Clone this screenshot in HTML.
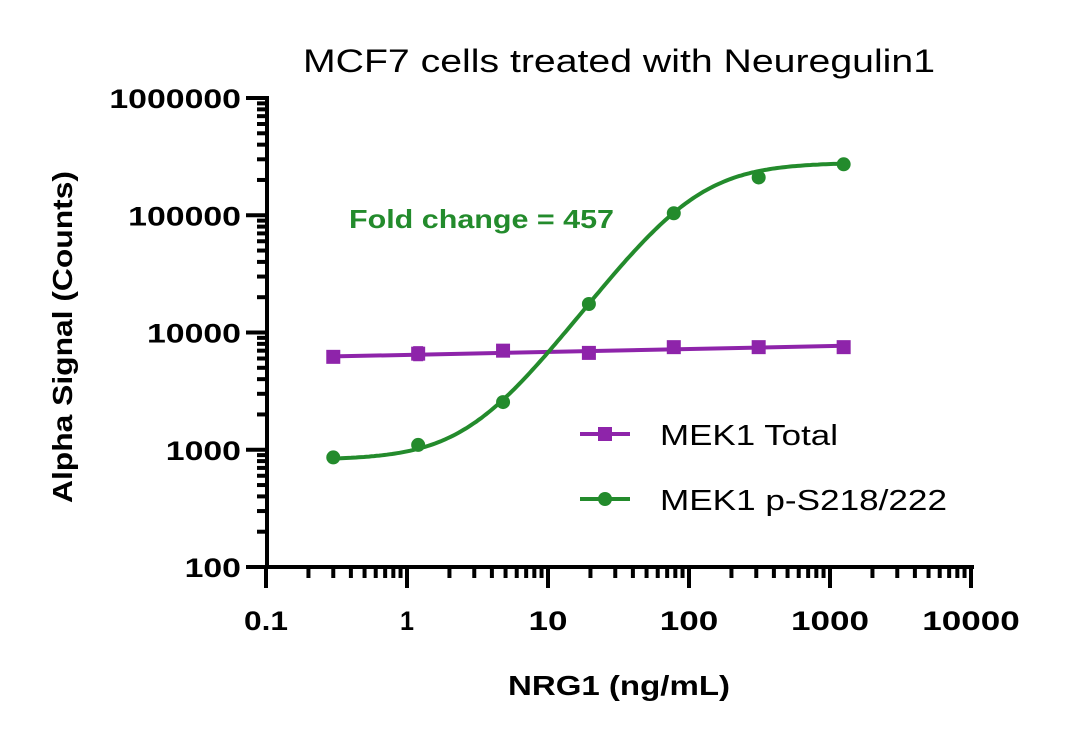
<!DOCTYPE html>
<html><head><meta charset="utf-8"><style>
body{margin:0;background:#fff;}
svg{display:block}
text{font-family:"Liberation Sans",sans-serif;}
</style></head><body>
<svg id="s" width="1080" height="734" xmlns="http://www.w3.org/2000/svg">
<rect width="1080" height="734" fill="#fff"/>
<text x="303" y="72" font-size="32" textLength="632" lengthAdjust="spacingAndGlyphs" fill="#000">MCF7 cells treated with Neuregulin1</text>
<text x="508" y="695" font-size="28" font-weight="bold" textLength="222" lengthAdjust="spacingAndGlyphs">NRG1 (ng/mL)</text>
<text transform="translate(72,503) rotate(-90)" font-size="28" font-weight="bold" textLength="332" lengthAdjust="spacingAndGlyphs">Alpha Signal (Counts)</text>
<text x="349" y="228" font-size="26" font-weight="bold" fill="#238B2C" textLength="265" lengthAdjust="spacingAndGlyphs">Fold change = 457</text>
<g id="ax" stroke="#000" stroke-width="4"></g>
<g id="lab" font-size="27" font-weight="bold"></g>
<g id="dat"></g>
<line x1="580" y1="434" x2="630" y2="434" stroke="#8E24AA" stroke-width="4"/>
<rect x="598" y="427" width="14" height="14" fill="#8E24AA"/>
<line x1="580" y1="499" x2="630" y2="499" stroke="#238B2C" stroke-width="4"/>
<circle cx="605" cy="499" r="7" fill="#238B2C"/>
<text x="660" y="445" font-size="29" textLength="178" lengthAdjust="spacingAndGlyphs">MEK1 Total</text>
<text x="660" y="510" font-size="29" textLength="287" lengthAdjust="spacingAndGlyphs">MEK1 p-S218/222</text>
</svg>
<script>
var NS="http://www.w3.org/2000/svg";
function px(x){return 266+141*(Math.log10(x)+1);}
function py(y){return 567-117.25*(Math.log10(y)-2);}
function el(p,t,a,txt){var e=document.createElementNS(NS,t);for(var k in a)e.setAttribute(k,a[k]);if(txt)e.textContent=txt;document.getElementById(p).appendChild(e);return e;}
el("ax","line",{x1:267,y1:96,x2:267,y2:569});
el("ax","line",{x1:265,y1:567,x2:974,y2:567});
for(var d=-1;d<=4;d++){for(var m=1;m<=9;m++){var X=px(m*Math.pow(10,d));if(d==4&&m>1)break;el("ax","line",{x1:X,y1:567,x2:X,y2:m==1?588:578});}}
for(var d=2;d<=6;d++){for(var m=1;m<=9;m++){if(d==6&&m>1)break;var Y=py(m*Math.pow(10,d));el("ax","line",{x1:267,y1:Y,x2:m==1?246:257,y2:Y});}}
var xl=["0.1","1","10","100","1000","10000"];
for(var i=0;i<6;i++){var L=xl[i]=="0.1"?44:(xl[i]=="1"?14:xl[i].length*19.5);el("lab","text",{x:px(Math.pow(10,i-1))-L/2,y:630,textLength:L,lengthAdjust:"spacingAndGlyphs"},xl[i]);}
var yl=["100","1000","10000","100000","1000000"];
for(var i=0;i<5;i++){var L=yl[i].length*18.8;el("lab","text",{x:241-L,y:py(Math.pow(10,i+2))+10,textLength:L,lengthAdjust:"spacingAndGlyphs"},yl[i]);}
var xs=[0.3,1.2,4.8,19.5,78,312,1250];
var g=[860,1100,2550,17500,104000,210000,272000];
var p=[6200,6600,7000,6700,7500,7500,7500];
el("dat","path",{d:"M"+px(0.3)+","+py(6250)+"L"+px(1250)+","+py(7700),stroke:"#8E24AA","stroke-width":4,fill:"none"});
el("dat","line",{x1:px(1.2),y1:py(7500),x2:px(1.2),y2:py(5800),stroke:"#8E24AA","stroke-width":2});
el("dat","line",{x1:px(1.2)-5,y1:py(7500),x2:px(1.2)+5,y2:py(7500),stroke:"#8E24AA","stroke-width":2});
el("dat","line",{x1:px(1.2)-5,y1:py(5800),x2:px(1.2)+5,y2:py(5800),stroke:"#8E24AA","stroke-width":2});
for(var i=0;i<7;i++)el("dat","rect",{x:px(xs[i])-7,y:py(p[i])-7,width:14,height:14,fill:"#8E24AA"});
var c="";for(var k=0;k<=200;k++){var lx=Math.log10(0.3)+k/200*(Math.log10(1250)-Math.log10(0.3));var x=Math.pow(10,lx);var y=820+280000/(1+Math.pow(108/x,1.61));c+=(k?"L":"M")+px(x).toFixed(1)+","+py(y).toFixed(1);}
el("dat","path",{d:c,stroke:"#238B2C","stroke-width":4,fill:"none"});
for(var i=0;i<7;i++)el("dat","circle",{cx:px(xs[i]),cy:py(g[i]),r:7,fill:"#238B2C"});
</script>
</body></html>
